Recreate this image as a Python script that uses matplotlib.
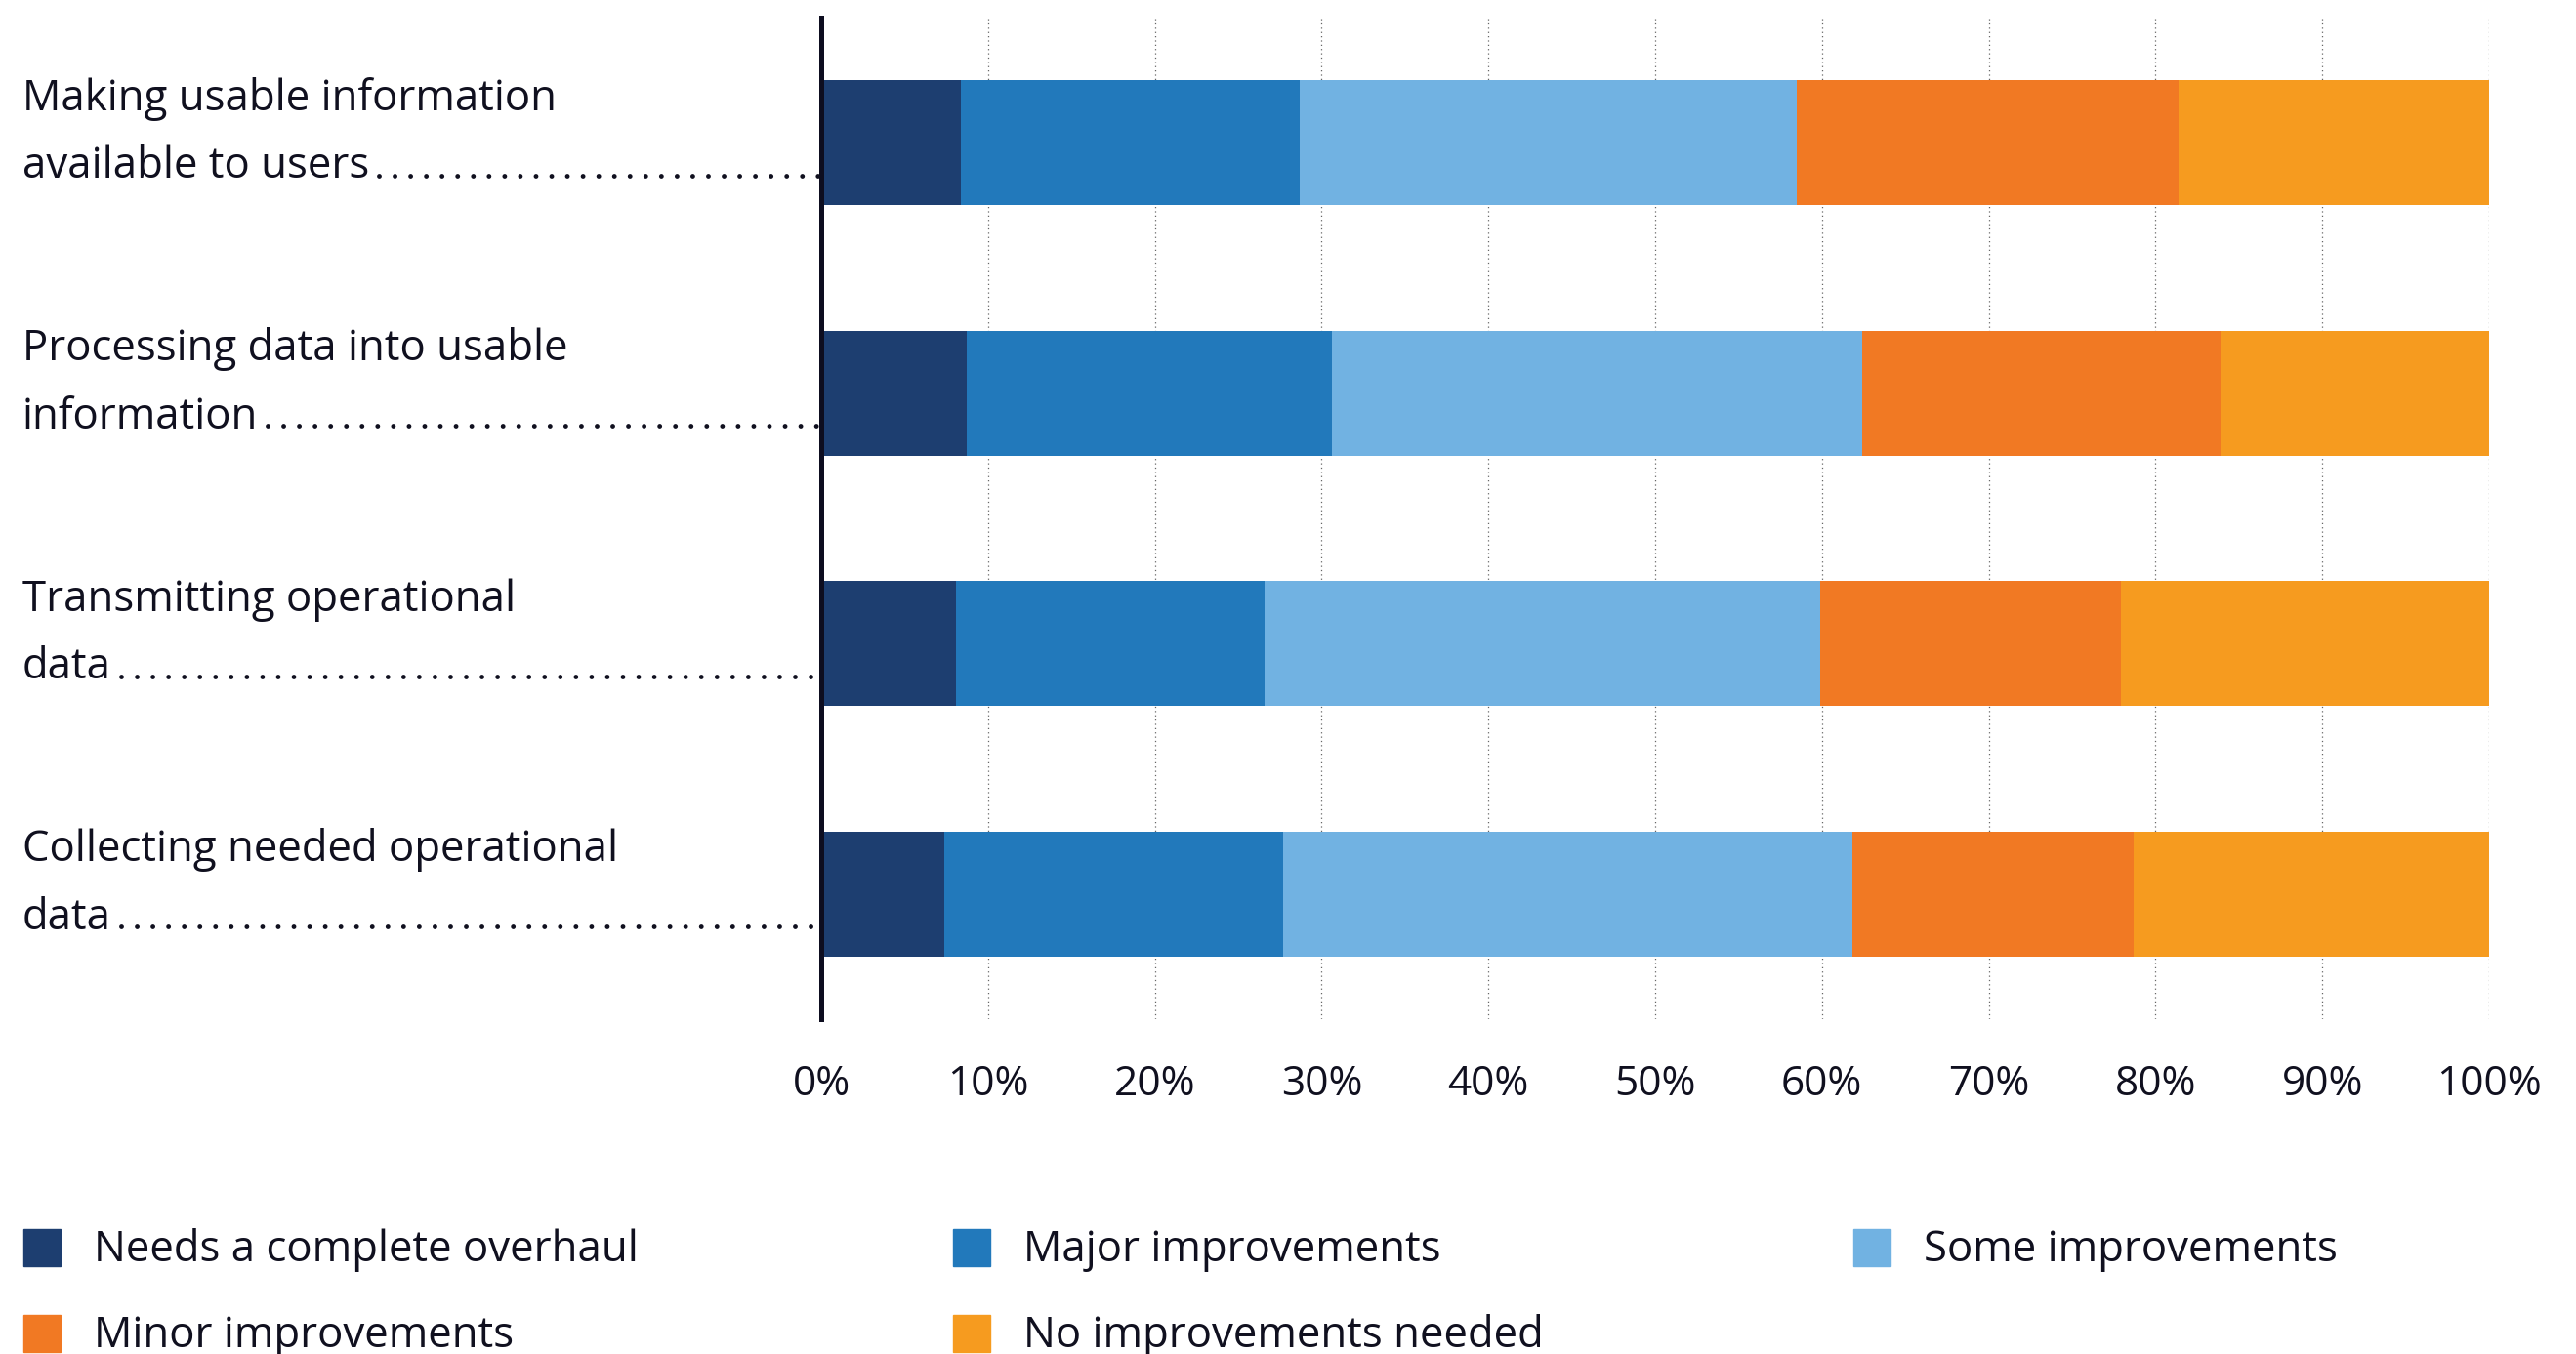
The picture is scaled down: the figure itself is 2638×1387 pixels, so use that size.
import matplotlib
matplotlib.use("Agg")
import matplotlib.pyplot as plt
from matplotlib.lines import Line2D
from matplotlib.patches import Rectangle
import numpy as np

plt.rcParams['font.family'] = ['Open Sans', 'DejaVu Sans']

# ---- data ----
categories = [
    "Making usable information\navailable to users",
    "Processing data into usable\ninformation",
    "Transmitting operational\ndata",
    "Collecting needed operational\ndata",
]
series_names = [
    "Needs a complete overhaul",
    "Major improvements",
    "Some improvements",
    "Minor improvements",
    "No improvements needed",
]
needs_overhaul = [8.4, 8.7, 8.1, 7.4]
major_impr = [20.3, 21.9, 18.5, 20.3]
some_impr = [29.8, 31.8, 33.3, 34.1]
minor_impr = [22.9, 21.5, 18.0, 16.9]
no_impr = [18.6, 16.1, 22.1, 21.3]
tick_values = list(range(0, 101, 10))
tick_labels = [f"{v}%" for v in tick_values]

colors = ["#1d3e70", "#2279bb", "#71b2e2", "#f17923", "#f69b1f"]
text_color = "#10101f"

W, H = 2638, 1387
fig = plt.figure(figsize=(W / 100, H / 100), dpi=100)
ax_left, ax_right, ax_top, ax_bot = 841, 2549, 18, 1044
ax = fig.add_axes([ax_left / W, 1 - ax_bot / H, (ax_right - ax_left) / W, (ax_bot - ax_top) / H])

y = np.arange(len(categories))
left = np.zeros(len(categories))
all_series = [needs_overhaul, major_impr, some_impr, minor_impr, no_impr]
for vals, c, name in zip(all_series, colors, series_names):
    ax.barh(y, vals, left=left, height=0.5, color=c, label=name, zorder=2)
    left += np.array(vals)

ax.set_xlim(0, 100)
ax.set_ylim(len(categories) - 0.5, -0.5)
ax.set_xticks(tick_values)
ax.set_xticklabels(tick_labels, fontsize=30.5, color=text_color)
ax.tick_params(axis='x', length=0, pad=33)
ax.set_yticks([])
ax.xaxis.grid(True, linestyle=(0, (1, 2.5)), color="#666666", linewidth=0.9, zorder=0)
ax.set_axisbelow(True)
for s in ["top", "right", "bottom"]:
    ax.spines[s].set_visible(False)
ax.spines["left"].set_linewidth(3.6)
ax.spines["left"].set_color("#0d0d1f")
ax.spines["left"].set_zorder(5)

# category labels (two lines) with dotted leaders
label_x = 23 / W
second_lines = []
for yi, cat in zip(y, categories):
    l1, l2 = cat.split("\n")
    ax.annotate(l1, xy=(label_x, yi), xycoords=("figure fraction", "data"),
                xytext=(0, 24), textcoords="offset points",
                ha="left", va="baseline", fontsize=31.5, color=text_color)
    t2 = ax.annotate(l2, xy=(label_x, yi), xycoords=("figure fraction", "data"),
                     xytext=(0, -26), textcoords="offset points",
                     ha="left", va="baseline", fontsize=31.5, color=text_color)
    second_lines.append((yi, t2))

fig.canvas.draw()
renderer = fig.canvas.get_renderer()
inv = fig.transFigure.inverted()
for yi, t2 in second_lines:
    bb = t2.get_window_extent(renderer)
    _, ydisp = ax.transData.transform((0, yi))
    base = ydisp - 26 * 100 / 72 + 2.5
    x0 = bb.x1 + 10
    x1 = ax_left
    p0 = inv.transform((x0, base))
    p1 = inv.transform((x1, base))
    fig.add_artist(Line2D([p0[0], p1[0]], [p0[1], p1[1]], transform=fig.transFigure,
                          linestyle=(0, (0.001, 3.3)), dash_capstyle="round",
                          linewidth=3.5, color=text_color))

# legend (manual layout, 3 columns)
col_patch_x = [24, 976, 1898]
row_center_y = [1278, 1366]
for i, (name, c) in enumerate(zip(series_names, colors)):
    col, row = i % 3, i // 3
    px = col_patch_x[col]
    cy = row_center_y[row]
    fig.add_artist(Rectangle(((px) / W, 1 - (cy + 19) / H), 38 / W, 38 / H,
                             transform=fig.transFigure, color=c))
    fig.text((px + 72) / W, 1 - (cy + 14) / H, name, ha="left", va="baseline",
             fontsize=31.5, color=text_color)

fig.savefig("out.png", dpi=100)
